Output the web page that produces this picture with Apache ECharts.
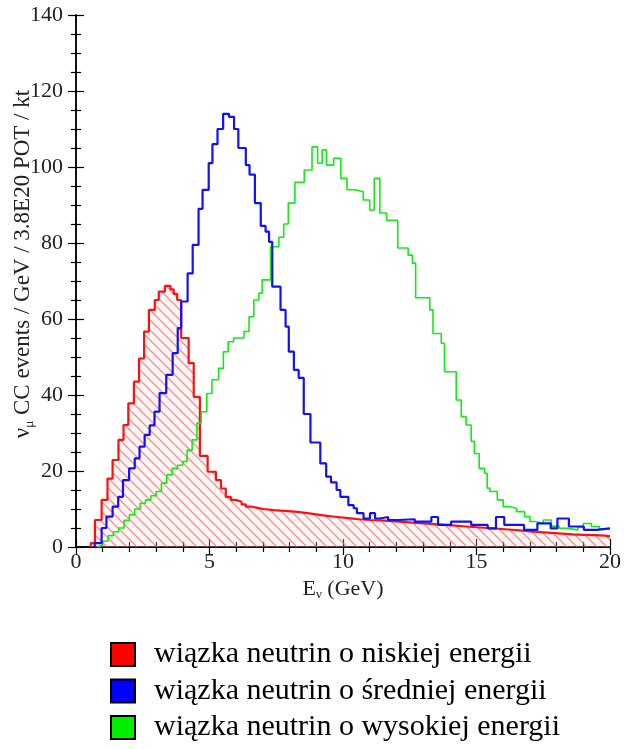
<!DOCTYPE html>
<html>
<head>
<meta charset="utf-8">
<script src="https://cdn.jsdelivr.net/npm/echarts@6/dist/echarts.min.js"></script>
<style>
  html, body { margin: 0; padding: 0; background: #fff; }
  #chart { width: 624px; height: 749px; }
</style>
</head>
<body>
<div id="chart"></div>
<script>
// step edges (GeV) and bin contents
var lowX = [0.55, 0.71, 0.96, 1.18, 1.37, 1.59, 1.78, 1.96, 2.17, 2.36,
  2.55, 2.73, 2.95, 3.1, 3.33, 3.54, 3.66, 3.79, 3.94, 4.22,
  4.41, 4.64, 4.93, 5.24, 5.43, 5.61, 5.8, 5.98, 6.2, 6.36,
  6.6, 6.8, 7.0, 7.4, 7.8, 8.2, 8.6, 9.0, 9.4, 9.8,
  10.2, 10.6, 11.0, 11.4, 11.8, 12.2, 12.6, 13.0, 13.4, 13.8,
  14.2, 14.6, 15.0, 15.4, 15.8, 16.2, 16.6, 17.0, 17.4, 17.8,
  18.2, 18.6, 19.0, 19.4, 19.8, 20];
var lowY = [1, 7.1, 12.4, 18, 22.9, 28.2, 32.1, 37.8, 43.5, 49.6,
  56.7, 62.4, 65, 67.2, 68.7, 67.8, 66.6, 65, 55, 48.4,
  39.5, 24, 19.8, 17.6, 15.4, 13.2, 12.4, 11.9, 11.2, 10.6,
  10.3, 10, 9.7, 9.5, 9.3, 9.0, 8.6, 8.2, 7.9, 7.6,
  7.3, 7.1, 7.0, 6.8, 6.6, 6.4, 6.2, 6.0, 5.8, 5.6,
  5.4, 5.2, 5.0, 4.8, 4.6, 4.4, 4.1, 3.9, 3.7, 3.5,
  3.3, 3.2, 3.1, 3.0, 2.8];

var midX = [0.7, 0.96, 1.14, 1.37, 1.58, 1.76, 1.99, 2.2, 2.38, 2.57,
  2.76, 2.94, 3.13, 3.38, 3.62, 3.81, 3.94, 4.18, 4.37, 4.59,
  4.74, 4.97, 5.11, 5.3, 5.51, 5.73, 5.92, 6.08, 6.36, 6.5,
  6.7, 6.92, 7.1, 7.23, 7.35, 7.66, 7.85, 7.97, 8.16, 8.34,
  8.53, 8.78, 9.15, 9.37, 9.55, 9.76, 9.9, 10.2, 10.4, 10.52,
  10.77, 11.01, 11.2, 11.38, 11.69, 12.07, 12.69, 13.31, 13.56, 14.05,
  14.8, 15.42, 15.73, 16.04, 16.78, 17.28, 17.78, 18.03, 18.46, 19.02,
  19.51, 20];
var midY = [1, 5, 8, 10.6, 13.2, 17.6, 20.7, 23.3, 26.4, 29.5,
  32, 35.6, 40.5, 45.3, 51, 57.6, 64.6, 72, 79.5, 89,
  94, 101, 106, 110, 114, 113.2, 110, 105, 100.5, 98,
  90.5, 84.5, 83, 80.3, 68.5, 62.4, 58, 51.4, 46.6, 44.5,
  35, 27.5, 22, 18.5, 17, 15, 13.2, 11, 10.2, 8.9,
  7.5, 8.9, 7.5, 7.9, 7.1, 7.3, 6.7, 7.9, 5.8, 6.7,
  5.8, 4.9, 7.9, 5.8, 4.5, 6.2, 4.9, 7.5, 5.4, 4.5,
  4.9];

var highX = [0.8, 1.0, 1.2, 1.4, 1.6, 1.8, 2.0, 2.2, 2.4, 2.6,
  2.8, 3.0, 3.2, 3.4, 3.6, 3.8, 4.0, 4.16, 4.35, 4.53,
  4.69, 4.9, 5.09, 5.34, 5.52, 5.7, 5.9, 6.29, 6.48, 6.66,
  6.85, 6.97, 7.29, 7.6, 7.78, 7.95, 8.2, 8.55, 8.84, 9.05,
  9.22, 9.38, 9.65, 9.92, 10.15, 10.45, 10.76, 11.0, 11.17, 11.38,
  11.63, 12.05, 12.44, 12.6, 12.72, 13.25, 13.37, 13.68, 13.8, 14.24,
  14.43, 14.61, 14.8, 14.92, 15.1, 15.3, 15.4, 15.5, 15.78, 16.0,
  16.25, 16.5, 16.8, 17.0, 17.2, 17.5, 17.8, 18.1, 18.4, 18.8,
  19.0, 19.3, 19.6, 20];
var highY = [0.5, 1.5, 3, 4, 5, 7, 8.5, 10, 11.5, 12.4,
  13.5, 14.6, 16.8, 19, 20.7, 21.5, 22.5, 25.5, 28.2, 32.6,
  35.6, 40.4, 44, 47, 51.4, 54, 55, 56.7, 60.6, 65,
  66.8, 70.3, 79, 81.5, 85, 90.5, 96, 99.2, 105.3, 101,
  104.5, 100.5, 102.3, 97, 94, 93.5, 91.3, 88.7, 97, 87.9,
  86, 78.7, 76.8, 74.7, 65.6, 62.4, 56.2, 53.6, 46.1, 38.7,
  34.3, 32.1, 27.8, 24.6, 20.7, 19.4, 15.5, 14.6, 12.4, 10.6,
  10.2, 9.3, 8, 6.7, 6.2, 7.1, 5.5, 4.9, 4.5, 5.2,
  6.2, 5.4, 4.8];

var legendNames = ['wiązka neutrin o niskiej energii',
  'wiązka neutrin o średniej energii',
  'wiązka neutrin o wysokiej energii'];
var colors = ['#ff0000', '#0000ff', '#00ee00'];

// histogram outline: [edge, value] pairs, closed at the last edge
function steps(xs, ys) {
  var pts = [[xs[0], 0]];
  for (var i = 0; i < ys.length; i++) pts.push([xs[i], ys[i]]);
  pts.push([xs[ys.length], ys[ys.length - 1]]);
  return pts;
}

// red diagonal hatching for the low-energy histogram
var hatch = document.createElement('canvas');
hatch.width = 10; hatch.height = 10;
var hc = hatch.getContext('2d');
hc.fillStyle = 'rgba(255,220,220,0.25)';
hc.fillRect(0, 0, 10, 10);
hc.strokeStyle = 'rgba(240,100,100,0.7)';
hc.lineWidth = 1.3;
hc.beginPath();
hc.moveTo(-1, -1); hc.lineTo(11, 11);
hc.moveTo(-1, 9); hc.lineTo(1, 11);
hc.moveTo(9, -1); hc.lineTo(11, 1);
hc.stroke();

var serif = 'Liberation Serif';
var tickStyle = { show: true, inside: true, length: 8, lineStyle: { color: '#000', width: 1.2 } };
var minorStyle = { show: true, length: 5, lineStyle: { color: '#000', width: 1.2 } };
var lineAxis = { show: true, lineStyle: { color: '#000', width: 1.5 } };

// one legend box per row so the rows keep the reference spacing
var legendTops = [639.5, 676, 712.5];
var legends = legendNames.map(function (n, i) {
  return {
    orient: 'vertical', left: 110, top: legendTops[i], padding: 0,
    itemWidth: 24, itemHeight: 23, selectedMode: false,
    textStyle: { fontFamily: serif, fontSize: 30, color: '#000', padding: [0, 0, 0, 14] },
    data: [{ name: n, icon: 'rect', itemStyle: { color: colors[i], borderColor: '#000', borderWidth: 2 } }]
  };
});

var chart = echarts.init(document.getElementById('chart'));
chart.setOption({
  animation: false,
  backgroundColor: '#fff',
  grid: { left: 76, right: 11, top: 15, bottom: 202 },
  xAxis: [
    {
      type: 'value', position: 'bottom', min: 0, max: 20, interval: 5,
      axisLine: lineAxis, axisTick: tickStyle,
      minorTick: Object.assign({ splitNumber: 5 }, minorStyle),
      splitLine: { show: false },
      axisLabel: { fontFamily: serif, fontSize: 22, color: '#222', margin: 4 },
      name: '{e|E}{s|ν}{t| (GeV)}', nameLocation: 'middle', nameGap: 27,
      nameTextStyle: {
        rich: {
          e: { fontFamily: serif, fontSize: 22, color: '#222', lineHeight: 24 },
          s: { fontFamily: serif, fontSize: 13, color: '#222', verticalAlign: 'bottom', lineHeight: 24, padding: [9, 0, 0, 0] },
          t: { fontFamily: serif, fontSize: 22, color: '#222', lineHeight: 24 }
        }
      }
    },
    {
      type: 'value', position: 'top', min: 0, max: 20, interval: 5,
      axisLine: lineAxis, axisTick: tickStyle,
      minorTick: Object.assign({ splitNumber: 5 }, minorStyle),
      splitLine: { show: false }, axisLabel: { show: false }
    }
  ],
  yAxis: [
    {
      type: 'value', position: 'left', min: 0, max: 140, interval: 20,
      axisLine: lineAxis, axisTick: tickStyle,
      minorTick: Object.assign({ splitNumber: 4 }, minorStyle),
      splitLine: { show: false },
      axisLabel: { fontFamily: serif, fontSize: 22, color: '#222', margin: 13 }
    },
    {
      type: 'value', position: 'right', min: 0, max: 140, interval: 20,
      axisLine: lineAxis, axisTick: tickStyle,
      minorTick: Object.assign({ splitNumber: 4 }, minorStyle),
      splitLine: { show: false }, axisLabel: { show: false }
    }
  ],
  graphic: [{
    type: 'text', x: 23, y: 264, rotation: Math.PI / 2,
    style: {
      text: '{n|ν}{s|μ}{t| CC events / GeV / 3.8E20 POT / kt}',
      align: 'center', verticalAlign: 'middle',
      rich: {
        n: { fontFamily: serif, fontSize: 23, fill: '#222', lineHeight: 26 },
        s: { fontFamily: serif, fontSize: 13, fill: '#222', verticalAlign: 'bottom', lineHeight: 26, padding: [10, 0, 0, 0] },
        t: { fontFamily: serif, fontSize: 23, fill: '#222', lineHeight: 26 }
      }
    }
  }],
  legend: legends,
  series: [
    {
      name: legendNames[0], type: 'line', step: 'end', symbol: 'none',
      data: steps(lowX, lowY),
      lineStyle: { color: '#ff1010', width: 2.2 },
      itemStyle: { color: colors[0] },
      areaStyle: { color: { image: hatch, repeat: 'repeat' }, opacity: 1 },
      z: 2
    },
    {
      name: legendNames[2], type: 'line', step: 'end', symbol: 'none',
      data: steps(highX, highY),
      lineStyle: { color: '#10ee10', width: 1.6 },
      itemStyle: { color: colors[2] },
      z: 3
    },
    {
      name: legendNames[1], type: 'line', step: 'end', symbol: 'none',
      data: steps(midX, midY),
      lineStyle: { color: '#1010ff', width: 2.2 },
      itemStyle: { color: colors[1] },
      z: 4
    }
  ]
});
</script>
</body>
</html>
